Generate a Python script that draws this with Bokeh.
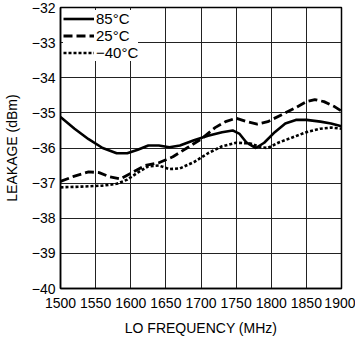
from bokeh.plotting import figure
from bokeh.models import Range1d, Legend, LegendItem, CustomJSTickFormatter, FixedTicker
from bokeh.embed import file_html
from bokeh.resources import INLINE

FONT = "Liberation Sans"

freq_85 = [1500, 1520, 1540, 1560, 1580, 1595, 1610, 1625, 1640, 1655, 1670, 1690, 1710, 1730, 1745, 1755, 1765, 1778, 1790, 1805, 1820, 1835, 1850, 1870, 1885, 1900]
leak_85 = [-35.12, -35.45, -35.75, -36.0, -36.15, -36.15, -36.05, -35.93, -35.93, -35.98, -35.93, -35.78, -35.65, -35.55, -35.5, -35.6, -35.85, -36.0, -35.85, -35.55, -35.3, -35.2, -35.2, -35.25, -35.3, -35.38]

freq_25 = [1500, 1520, 1540, 1555, 1570, 1585, 1600, 1620, 1640, 1660, 1680, 1700, 1720, 1735, 1750, 1765, 1780, 1795, 1815, 1835, 1850, 1862, 1875, 1890, 1900]
leak_25 = [-36.95, -36.8, -36.68, -36.7, -36.82, -36.88, -36.72, -36.5, -36.42, -36.25, -36.0, -35.75, -35.42, -35.25, -35.15, -35.25, -35.32, -35.25, -35.05, -34.85, -34.68, -34.62, -34.68, -34.82, -34.95]

freq_m40 = [1500, 1530, 1560, 1580, 1595, 1610, 1625, 1640, 1655, 1670, 1690, 1710, 1730, 1750, 1770, 1785, 1795, 1810, 1830, 1850, 1870, 1885, 1900]
leak_m40 = [-37.12, -37.1, -37.07, -37.02, -36.9, -36.7, -36.52, -36.5, -36.6, -36.58, -36.4, -36.15, -35.95, -35.85, -35.87, -35.98, -36.0, -35.85, -35.7, -35.55, -35.45, -35.42, -35.45]

labels = ["85\u00b0C", "25\u00b0C", "\u221240\u00b0C"]
x_ticks = [1500, 1550, 1600, 1650, 1700, 1750, 1800, 1850, 1900]
y_ticks = [-40, -39, -38, -37, -36, -35, -34, -33, -32]

p = figure(width=355, height=339, output_backend="svg", toolbar_location=None,
           x_range=Range1d(1500, 1900), y_range=Range1d(-40, -32),
           min_border_left=59, min_border_right=14, min_border_top=7, min_border_bottom=51)
p.background_fill_color = "white"
p.border_fill_color = "white"
p.outline_line_color = "black"
p.outline_line_width = 1.5

for ax in (p.xaxis[0], p.yaxis[0]):
    ax.major_tick_in = 0
    ax.major_tick_out = 0
    ax.minor_tick_in = 0
    ax.minor_tick_out = 0
    ax.axis_line_color = "black"
    ax.axis_line_width = 1.5
    ax.major_label_text_font = FONT
    ax.major_label_text_font_size = "14px"
    ax.major_label_text_color = "black"
    ax.axis_label_text_font = FONT
    ax.axis_label_text_font_size = "14px"
    ax.axis_label_text_font_style = "normal"
    ax.axis_label_text_color = "black"

p.xaxis.ticker = FixedTicker(ticks=x_ticks)
p.yaxis.ticker = FixedTicker(ticks=y_ticks)
p.xaxis.major_label_standoff = 9
p.yaxis.major_label_standoff = 5
p.xaxis.axis_label = "LO FREQUENCY (MHz)"
p.yaxis.axis_label = "LEAKAGE (dBm)"
p.xaxis.axis_label_standoff = 9
p.yaxis.axis_label_standoff = 9
p.yaxis.formatter = CustomJSTickFormatter(code="return tick < 0 ? '\\u2212' + Math.abs(tick).toString() : tick.toString();")

p.xgrid.ticker = FixedTicker(ticks=x_ticks)
p.ygrid.ticker = FixedTicker(ticks=y_ticks)
p.grid.grid_line_color = "#222222"
p.grid.grid_line_width = 1

r85 = p.line(freq_85, leak_85, line_color="black", line_width=2.6)
r25 = p.line(freq_25, leak_25, line_color="black", line_width=2.8, line_dash="9 4")
rm40 = p.line(freq_m40, leak_m40, line_color="black", line_width=2.6, line_dash="3 2")

legend = Legend(items=[LegendItem(label=labels[0], renderers=[r85]),
                       LegendItem(label=labels[1], renderers=[r25]),
                       LegendItem(label=labels[2], renderers=[rm40])],
                location="top_left", border_line_color=None,
                background_fill_color="white", background_fill_alpha=1.0,
                label_text_font=FONT, label_text_font_size="15px",
                label_text_color="black",
                glyph_width=31, glyph_height=17, label_height=17,
                label_standoff=2, spacing=0, padding=5, margin=3)
p.add_layout(legend)

open("out.html", "w").write(file_html(p, INLINE))
